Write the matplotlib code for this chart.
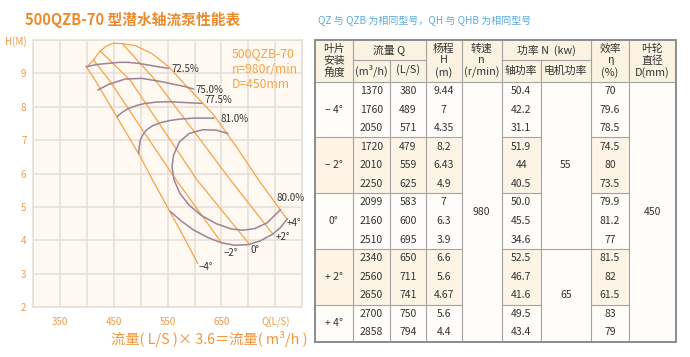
"""
500QZB-70 submersible axial-flow pump: performance curves + data table.
"""

import matplotlib
matplotlib.use("Agg")
import matplotlib.pyplot as plt
import matplotlib.patches as mpatches

plt.rcParams["font.family"] = ["Noto Sans CJK SC", "DejaVu Sans"]

# ---- curve data (Q in L/S, H in m) ----
angle_names = ["-4°", "-2°", "0°", "+2°", "+4°"]
q_m4 = [399.5, 415, 460, 499, 521, 549, 580, 606]
h_m4 = [9.17, 8.80, 7.57, 6.51, 5.83, 5.01, 4.10, 3.30]
q_m2 = [411.8, 442, 495, 564, 651]
h_m2 = [9.40, 8.78, 7.50, 5.85, 3.91]
q_0 = [424.3, 480, 540, 604.5, 700.7]
h_0 = [9.67, 8.80, 7.36, 5.81, 3.91]
q_p2 = [466.6, 527, 600, 666.6, 744]
h_p2 = [9.87, 8.80, 7.24, 5.81, 4.22]
q_p4 = [399.5, 405, 411.8, 424.3, 436, 449, 466.6, 490, 520, 552, 583, 610, 636, 680, 719, 771]
h_p4 = [9.17, 9.28, 9.40, 9.67, 9.82, 9.90, 9.89, 9.83, 9.60, 9.20, 8.65, 8.20, 7.75, 6.75, 5.81, 4.66]

q_e725 = [398, 420, 440, 460, 477, 495, 514, 535, 551.6]
h_e725 = [9.20, 9.27, 9.30, 9.33, 9.33, 9.30, 9.25, 9.19, 9.15]
q_e75 = [420, 440, 471, 502, 539, 583, 598]
h_e75 = [8.50, 8.67, 8.83, 8.85, 8.75, 8.60, 8.53]
q_e775 = [456, 465, 477, 495, 508, 530, 552, 589, 614]
h_e775 = [7.70, 7.83, 7.95, 8.05, 8.10, 8.14, 8.15, 8.12, 8.10]
q_e81 = [496, 497, 499, 504, 511, 522, 536, 555, 573, 600, 629, 636]
h_e81 = [6.60, 6.80, 7.00, 7.17, 7.31, 7.43, 7.52, 7.59, 7.63, 7.66, 7.66, 7.66]
q_e80 = [662, 640, 615, 590, 572, 561, 558, 562, 573, 590, 612, 640, 668, 690, 712, 735, 760]
h_e80 = [7.20, 7.30, 7.31, 7.20, 6.95, 6.55, 6.20, 5.80, 5.40, 5.05, 4.75, 4.50, 4.34, 4.30, 4.35, 4.52, 4.92]
q_low = [555, 575, 598, 625, 651, 675, 700, 722, 745, 760, 773]
h_low = [4.86, 4.58, 4.31, 4.08, 3.92, 3.85, 3.87, 3.98, 4.18, 4.38, 4.65]

x_ticks = [300, 350, 400, 450, 500, 550, 600, 650, 700, 750, 800]
x_labels = ["", "350", "", "450", "", "550", "", "650", "", "Q(L/S)", ""]
y_ticks = [2, 3, 4, 5, 6, 7, 8, 9, 10]
y_labels = ["2", "3", "4", "5", "6", "7", "8", "9", "H(M)"]

# ---- table data ----
angles = ["– 4°", "– 2°", "0°", "+ 2°", "+ 4°"]
flow_m3h = [["1370", "1760", "2050"], ["1720", "2010", "2250"], ["2099", "2160", "2510"],
            ["2340", "2560", "2650"], ["2700", "2858"]]
flow_ls = [["380", "489", "571"], ["479", "559", "625"], ["583", "600", "695"],
           ["650", "711", "741"], ["750", "794"]]
head = [["9.44", "7", "4.35"], ["8.2", "6.43", "4.9"], ["7", "6.3", "3.9"],
        ["6.6", "5.6", "4.67"], ["5.6", "4.4"]]
shaft_kw = [["50.4", "42.2", "31.1"], ["51.9", "44", "40.5"], ["50.0", "45.5", "34.6"],
            ["52.5", "46.7", "41.6"], ["49.5", "43.4"]]
eff = [["70", "79.6", "78.5"], ["74.5", "80", "73.5"], ["79.9", "81.2", "77"],
       ["81.5", "82", "61.5"], ["83", "79"]]
speed = "980"
motor_kw = [("55", 0, 3), ("65", 3, 5)]   # value, first group, end group
diameter = "450"

ORANGE = "#F5A347"
TICK = "#F29B45"
PURPLE = "#9C8297"
GRID = "#E6DED6"
TXT = "#333333"

fig = plt.figure(figsize=(6.9, 3.57), dpi=100, facecolor="white")

# ---- chart ----
ax = fig.add_axes([0.0483, 0.140, 0.3894, 0.748], facecolor="#FFF9F1")
ax.set_xlim(300, 800)
ax.set_ylim(2, 10)
ax.set_xticks(x_ticks)
ax.set_xticklabels(x_labels)
ax.set_yticks(y_ticks)
ax.set_yticklabels(y_labels)
ax.tick_params(length=0, colors=TICK, labelsize=7, pad=5)
ax.tick_params(axis="x", pad=7)
ax.grid(True, color=GRID, linewidth=1.1)
ax.set_axisbelow(True)
for s in ax.spines.values():
    s.set_color(GRID)
    s.set_linewidth(1.1)

for q, h in [(q_m4, h_m4), (q_m2, h_m2), (q_0, h_0), (q_p2, h_p2), (q_p4, h_p4)]:
    ax.plot(q, h, color=ORANGE, lw=0.9, solid_capstyle="round", zorder=3)
for q, h in [(q_e725, h_e725), (q_e75, h_e75), (q_e775, h_e775), (q_e81, h_e81),
             (q_e80, h_e80), (q_low, h_low)]:
    ax.plot(q, h, color=PURPLE, lw=1.1, solid_capstyle="round", zorder=4)

lab = dict(fontsize=7, color=TXT, va="center", zorder=5)
ax.text(557, 9.13, "72.5%", ha="left", **lab)
ax.text(601, 8.50, "75.0%", ha="left", **lab)
ax.text(618, 8.20, "77.5%", ha="left", **lab)
ax.text(648, 7.63, "81.0%", ha="left", **lab)
ax.text(752, 5.26, "80.0%", ha="left", **lab)
ax.text(771, 4.51, angle_names[4], ha="left", **lab)
ax.text(750, 4.11, angle_names[3], ha="left", **lab)
ax.text(705, 3.71, angle_names[2], ha="left", **lab)
ax.text(668, 3.63, "−2°", ha="center", **lab)
ax.text(622, 3.20, "−4°", ha="center", **lab)

ax.text(670, 9.78, "500QZB-70\nn=980r/min\nD=450mm", ha="left", va="top",
        fontsize=8.8, color=ORANGE, linespacing=1.22)

# ---- overlay in pixel coordinates for titles and table ----
tx = fig.add_axes([0, 0, 1, 1], facecolor="none")
tx.set_xlim(0, 690)
tx.set_ylim(357, 0)
tx.axis("off")

tx.text(25, 20, "500QZB-70 型潜水轴流泵性能表", fontsize=10.6, fontweight="bold",
        color="#EC8A2B", ha="left", va="center")
tx.text(318, 21.5, "QZ 与 QZB 为相同型号，QH 与 QHB 为相同型号", fontsize=7.2,
        color="#5AA9DE", ha="left", va="center")
tx.text(209, 339, "流量( L/S )× 3.6＝流量( m³/h )", fontsize=10.3,
        color="#F0963C", ha="center", va="center")

cols = [315, 352.7, 390, 426, 461.7, 501.7, 540.7, 590.7, 629.3, 675.7]
top, mid, hbot, bot = 40, 60, 81.7, 341.7
rh = (bot - hbot) / 14
group_sizes = [len(g) for g in flow_m3h]
gedges = [hbot]
for n in group_sizes:
    gedges.append(gedges[-1] + n * rh)

HEAD_BG = "#FCF2E2"
SHADE = "#FDF4E6"
PLAIN = "#FFFDF9"
LINE = "#A3A3A3"

def cell(x0, x1, y0, y1, c):
    tx.add_patch(mpatches.Rectangle((x0, y0), x1 - x0, y1 - y0, facecolor=c,
                                    edgecolor="none", zorder=1))

cell(cols[0], cols[-1], top, hbot, HEAD_BG)
cell(cols[0], cols[-1], hbot, bot, PLAIN)
for g in (1, 3):
    y0, y1 = gedges[g], gedges[g + 1]
    cell(cols[0], cols[4], y0, y1, SHADE)
    cell(cols[5], cols[6], y0, y1, SHADE)
    cell(cols[7], cols[8], y0, y1, SHADE)

def hline(y, x0, x1):
    tx.plot([x0, x1], [y, y], color=LINE, lw=0.8, zorder=2)

def vline(x, y0, y1):
    tx.plot([x, x], [y0, y1], color=LINE, lw=0.8, zorder=2)

hline(mid, cols[1], cols[3])
hline(mid, cols[5], cols[7])
hline(hbot, cols[0], cols[-1])
for i, x in enumerate(cols[1:-1], start=1):
    vline(x, mid if i in (2, 6) else top, bot)
for g in range(1, 5):
    y = gedges[g]
    hline(y, cols[0], cols[4])
    hline(y, cols[5], cols[6])
    hline(y, cols[7], cols[8])
    if g == 3:
        hline(y, cols[6], cols[7])
tx.add_patch(mpatches.Rectangle((cols[0], top), cols[-1] - cols[0], bot - top,
                                facecolor="none", edgecolor="#8C8C8C", lw=1.4, zorder=3))

def ctr(i):
    return (cols[i] + cols[i + 1]) / 2

hd = dict(fontsize=7.8, color=TXT, ha="center", va="center", zorder=4)
for i, lines in [(0, ["叶片", "安装", "角度"]), (3, ["杨程", "H", "(m)"]),
                 (4, ["转速", "n", "(r/min)"]), (7, ["效率", "η", "(%)"]),
                 (8, ["叶轮", "直径", "D(mm)"])]:
    for k, s in enumerate(lines):
        tx.text(ctr(i), 48.5 + k * 11.8, s, **hd)
tx.text((cols[1] + cols[3]) / 2, 50.5, "流量 Q", **hd)
tx.text(ctr(1), 70.5, "(m³/h)", **hd)
tx.text(ctr(2), 70.5, "(L/S)", **hd)
tx.text((cols[5] + cols[7]) / 2, 50.5, "功率 N  (kw)", **hd)
tx.text(ctr(5), 70.5, "轴功率", **hd)
tx.text(ctr(6), 70.5, "电机功率", **hd)

dt = dict(fontsize=7.5, color=TXT, ha="center", va="center", zorder=4)
for g in range(5):
    tx.text(ctr(0), (gedges[g] + gedges[g + 1]) / 2, angles[g], **dt)
    for r in range(group_sizes[g]):
        y = gedges[g] + (r + 0.5) * rh
        tx.text(ctr(1), y, flow_m3h[g][r], **dt)
        tx.text(ctr(2), y, flow_ls[g][r], **dt)
        tx.text(ctr(3), y, head[g][r], **dt)
        tx.text(ctr(5), y, shaft_kw[g][r], **dt)
        tx.text(ctr(7), y, eff[g][r], **dt)
tx.text(ctr(4), (hbot + bot) / 2, speed, **dt)
tx.text(ctr(8), (hbot + bot) / 2, diameter, **dt)
for val, g0, g1 in motor_kw:
    tx.text(ctr(6), (gedges[g0] + gedges[g1]) / 2, val, **dt)

fig.savefig("out.png", dpi=100, facecolor="white")
plt.close(fig)
